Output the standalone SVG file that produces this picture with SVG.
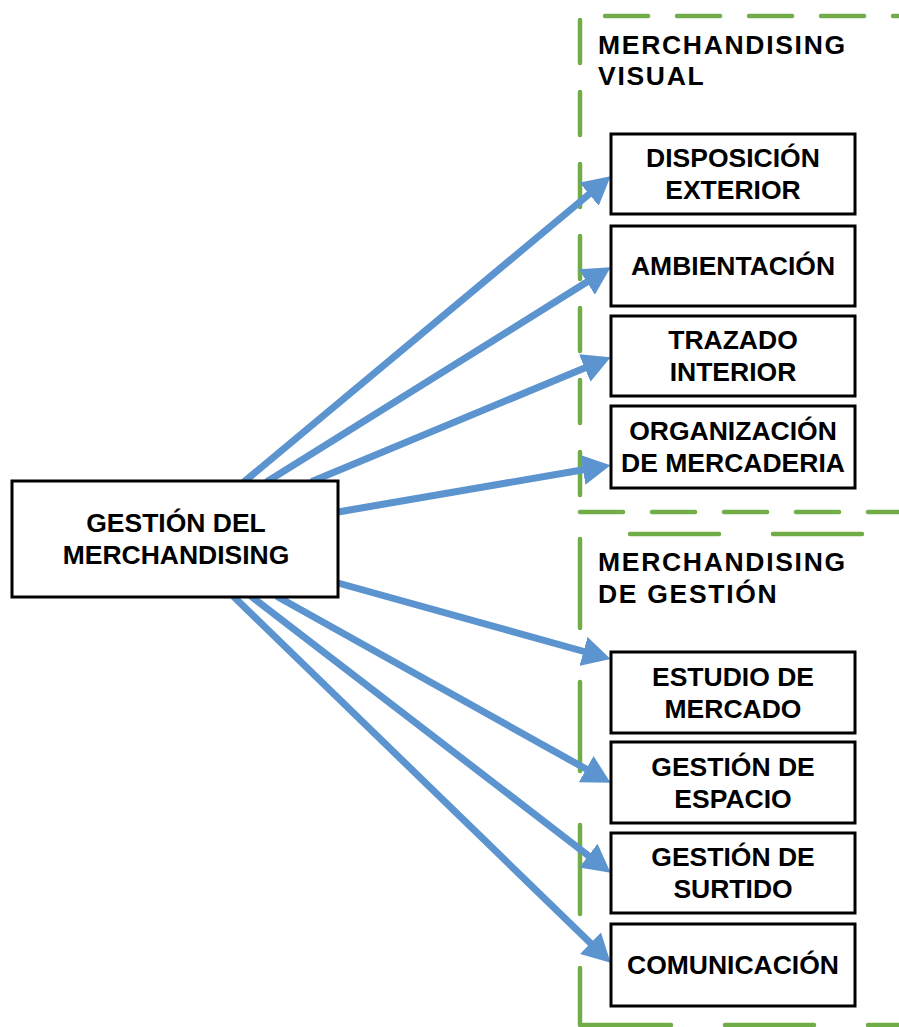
<svg xmlns="http://www.w3.org/2000/svg" width="899" height="1027" viewBox="0 0 899 1027">
<style>
.box{fill:#fff;stroke:#000;stroke-width:3}
.t{font-family:"Liberation Sans",Arial,sans-serif;font-weight:bold;font-size:26.5px;fill:#000;text-anchor:middle}
.h{font-family:"Liberation Sans",Arial,sans-serif;font-weight:bold;font-size:26.5px;fill:#000;letter-spacing:1.7px}
.g1{stroke:#70AD47;stroke-width:4.5;stroke-linecap:round;fill:none;stroke-dasharray:43 29}
.g2{stroke:#70AD47;stroke-width:4.5;stroke-linecap:round;fill:none;stroke-dasharray:89 54}
.a{stroke:#5B94CF;stroke-width:7;stroke-linecap:round;fill:none;marker-end:url(#ah)}
</style>
<defs>
<marker id="ah" markerUnits="userSpaceOnUse" markerWidth="28" markerHeight="30" viewBox="0 0 28 30" refX="0.5" refY="15" orient="auto">
<path d="M0,0 L28,15 L0,30 z" fill="#5B94CF"/>
</marker>
</defs>
<g id="group-visual">
<line class="g1" x1="605" y1="16" x2="920" y2="16"/>
<line class="g1" x1="580" y1="20" x2="580" y2="512"/>
<line class="g1" x1="580" y1="512" x2="920" y2="512"/>
<text class="h" x="598" y="54">MERCHANDISING</text>
<text class="h" x="598" y="85">VISUAL</text>
</g>
<g id="group-gestion">
<line class="g2" x1="630" y1="534" x2="920" y2="534"/>
<line class="g2" x1="580" y1="539" x2="580" y2="1025"/>
<line class="g2" x1="582" y1="1025" x2="920" y2="1025"/>
<text class="h" x="598" y="571">MERCHANDISING</text>
<text class="h" x="598" y="603">DE GESTIÓN</text>
</g>
<g id="connectors">
<line class="a" x1="245" y1="481" x2="589.5" y2="193.9"/>
<line class="a" x1="268" y1="481" x2="587.3" y2="281.8"/>
<line class="a" x1="313" y1="481" x2="585.2" y2="367.8"/>
<line class="a" x1="338" y1="512" x2="583.4" y2="469.8"/>
<line class="a" x1="338" y1="583" x2="584" y2="651.5"/>
<line class="a" x1="278" y1="597" x2="586.6" y2="769.3"/>
<line class="a" x1="252" y1="597" x2="588.8" y2="855.9"/>
<line class="a" x1="234" y1="597" x2="590.9" y2="943.5"/>
</g>
<g id="main">
<rect class="box" x="12" y="481" width="326" height="116"/>
<text class="t" x="176" y="532">GESTIÓN DEL</text>
<text class="t" x="176" y="564">MERCHANDISING</text>
</g>
<g id="n1">
<rect class="box" x="611" y="134" width="244" height="80"/>
<text class="t" x="733" y="167">DISPOSICIÓN</text>
<text class="t" x="733" y="199">EXTERIOR</text>
</g>
<g id="n2">
<rect class="box" x="611" y="226" width="244" height="80"/>
<text class="t" x="733" y="275">AMBIENTACIÓN</text>
</g>
<g id="n3">
<rect class="box" x="611" y="316" width="244" height="80"/>
<text class="t" x="733" y="349">TRAZADO</text>
<text class="t" x="733" y="381">INTERIOR</text>
</g>
<g id="n4">
<rect class="box" x="611" y="406" width="244" height="82"/>
<text class="t" x="733" y="440">ORGANIZACIÓN</text>
<text class="t" x="733" y="472">DE MERCADERIA</text>
</g>
<g id="n5">
<rect class="box" x="611" y="652" width="244" height="81"/>
<text class="t" x="733" y="686">ESTUDIO DE</text>
<text class="t" x="733" y="718">MERCADO</text>
</g>
<g id="n6">
<rect class="box" x="611" y="742" width="244" height="81"/>
<text class="t" x="733" y="776">GESTIÓN DE</text>
<text class="t" x="733" y="808">ESPACIO</text>
</g>
<g id="n7">
<rect class="box" x="611" y="833" width="244" height="80"/>
<text class="t" x="733" y="866">GESTIÓN DE</text>
<text class="t" x="733" y="898">SURTIDO</text>
</g>
<g id="n8">
<rect class="box" x="611" y="924" width="244" height="82"/>
<text class="t" x="733" y="974">COMUNICACIÓN</text>
</g>
</svg>
